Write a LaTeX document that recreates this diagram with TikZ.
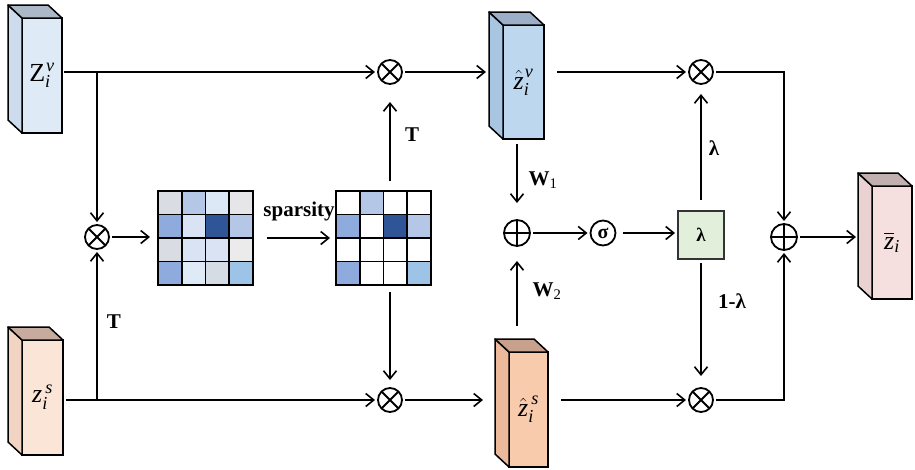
\documentclass[tikz,border=0pt]{standalone}
\usepackage{amsmath}
\usepackage{fontspec}
\setmainfont{Liberation Serif}
\usetikzlibrary{arrows.meta,calc}
\definecolor{zvF}{HTML}{DEEAF6}\definecolor{zvS}{HTML}{CCDCEC}\definecolor{zvT}{HTML}{ABB8C8}
\definecolor{zsF}{HTML}{FBE5D6}\definecolor{zsS}{HTML}{F1D4C2}\definecolor{zsT}{HTML}{C6AB9E}
\definecolor{hvF}{HTML}{BDD7EE}\definecolor{hvS}{HTML}{A8C5E2}\definecolor{hvT}{HTML}{9BB0C8}
\definecolor{hsF}{HTML}{F8CBAD}\definecolor{hsS}{HTML}{ECBA9A}\definecolor{hsT}{HTML}{C7A18C}
\definecolor{zbF}{HTML}{F5DFDF}\definecolor{zbS}{HTML}{EAD2D2}\definecolor{zbT}{HTML}{C2B0B0}
\definecolor{lamF}{HTML}{E2EFDA}
\definecolor{cA}{HTML}{D9DCE3}\definecolor{cB}{HTML}{B4C7E7}\definecolor{cC}{HTML}{DCE8F6}
\definecolor{cD}{HTML}{E6E6E8}\definecolor{cE}{HTML}{8FAADC}\definecolor{cF}{HTML}{DAE3F3}
\definecolor{cG}{HTML}{2F5597}\definecolor{cH}{HTML}{EBEBEB}\definecolor{cI}{HTML}{DEEBF7}
\definecolor{cJ}{HTML}{D6DCE4}\definecolor{cK}{HTML}{9DC3E6}
\tikzset{
  conn/.style={line width=1.6pt, -{Straight Barb[length=8pt,width=13pt]}},
  opnode/.style={circle, draw, line width=1.8pt, minimum size=24pt, inner sep=0pt, outer sep=3pt},
  otimesnode/.style={opnode, path picture={\draw[line width=1.8pt]
     (path picture bounding box.north west) -- (path picture bounding box.south east)
     (path picture bounding box.north east) -- (path picture bounding box.south west);}},
  oplusnode/.style={opnode, minimum size=26pt, path picture={\draw[line width=1.8pt]
     (path picture bounding box.north) -- (path picture bounding box.south)
     (path picture bounding box.east) -- (path picture bounding box.west);}},
  blabel/.style={font=\fontsize{21}{24}\selectfont\bfseries},
  cubelabel/.style={font=\fontsize{26}{30}\selectfont},
  cell/.style={draw=black, line width=1.6pt},
}
\newcommand\mycuboid[9]{%
  \node[draw, line width=1.5pt, fill=#6, minimum width=#4pt, minimum height=#5pt,
        inner sep=0pt, outer sep=0pt, cubelabel] (#1) at (#2,#3) {#9};
  \filldraw[fill=#7, line width=1.5pt, line join=round] (#1.north west) -- ++(-14,-13)
     -- ($(#1.south west)+(-14,-13)$) -- (#1.south west) -- cycle;
  \filldraw[fill=#8, line width=1.5pt, line join=round] (#1.north west) -- ++(-14,-13)
     -- ($(#1.north east)+(-14,-13)$) -- (#1.north east) -- cycle;
}
\newcommand\mymatrix[2]{%
  \foreach \col/\row/\clr in {#2}
    \filldraw[cell, fill=\clr] ($(#1.north west)+(\col*23.75,\row*23.5)$) rectangle ++(23.75,23.5);
}
\begin{document}
\begin{tikzpicture}[x=1pt,y=-1pt]
\useasboundingbox (0,0) rectangle (915,469);
\fill[white] (0,0) rectangle (915,469);

% cuboids
\mycuboid{zv}{42}{75.5}{40}{115}{zvF}{zvS}{zvT}{$\textrm{Z}_{\textit{i}}^{\hspace{1pt}\textit{v}}$}
\mycuboid{zs}{42.5}{397.5}{41}{115}{zsF}{zsS}{zsT}{$\textit{z}_{\textit{i}}^{\hspace{3pt}\textit{s}}$}
\mycuboid{zhv}{523.5}{82}{41}{114}{hvF}{hvS}{hvT}{$\hat{\textit{z}}_{\textit{i}}^{\hspace{1pt}\textit{v}}$}
\mycuboid{zhs}{528.5}{409.5}{39}{115}{hsF}{hsS}{hsT}{$\hat{\textit{z}}_{\textit{i}}^{\hspace{3pt}\textit{s}}$}
\mycuboid{zb}{892}{242.5}{40}{113}{zbF}{zbS}{zbT}{$\overline{\textit{z}}_{\textit{i}}$}

% matrices
\node[minimum width=95pt, minimum height=94pt, inner sep=0pt, outer sep=0pt] (m1) at (205.5,238) {};
\node[minimum width=95pt, minimum height=94pt, inner sep=0pt, outer sep=0pt] (m2) at (383.5,238) {};
\mymatrix{m1}{0/0/cA,1/0/cB,2/0/cC,3/0/cD,0/1/cE,1/1/cF,2/1/cG,3/1/cB,0/2/cA,1/2/cF,2/2/cF,3/2/cH,0/3/cE,1/3/cI,2/3/cJ,3/3/cK}
\mymatrix{m2}{0/0/white,1/0/cB,2/0/white,3/0/white,0/1/cE,1/1/white,2/1/cG,3/1/cB,0/2/white,1/2/white,2/2/white,3/2/white,0/3/cE,1/3/white,2/3/white,3/3/cK}

% operator nodes
\node[otimesnode] (oleft) at (97,237) {};
\node[otimesnode] (otop) at (390,72) {};
\node[otimesnode] (obot) at (390,400) {};
\node[oplusnode] (oplus) at (517,233) {};
\node[opnode, minimum size=25pt] (sig) at (603,233) {\fontsize{20}{22}\selectfont\bfseries σ};
\node[draw=black!80, line width=1.4pt, fill=lamF, minimum width=46pt, minimum height=48pt,
      inner sep=0pt, outer sep=3pt, font=\fontsize{19}{20}\selectfont\bfseries] (lam) at (701,235) {λ};
\node[otimesnode] (otr) at (701,72) {};
\node[otimesnode] (obr) at (701,400) {};
\node[oplusnode] (oplusr) at (784,237) {};

\coordinate (jv) at (97,72);
\coordinate (js) at (97,400);
\coordinate (w2s) at (517,326);

% connectors
\draw[conn, shorten <=2pt] (zv.east |- jv) -- (otop);
\draw[conn] (jv) -- (oleft);
\draw[conn, shorten <=3pt] (zs.east |- js) -- (obot);
\draw[conn] (js) -- (oleft);
\node[blabel] (tl) at (114,322) {T};
\draw[conn, shorten >=8pt] (oleft) -- (oleft -| m1.west);
\draw[conn, shorten <=14pt, shorten >=6pt] (m1.east) -- (m2.west);
\node[blabel] (sp) at (299,211) {sparsity};
\draw[conn, shorten <=10pt, shorten >=15pt] (m2.north -| otop) -- (otop);
\node[blabel] (tt) at (412,135) {T};
\draw[conn, shorten <=7pt, shorten >=5pt] (m2.south -| obot) -- (obot);
\draw[conn, shorten >=17pt] (otop) -- (otop -| zhv.west);
\draw[conn, shorten >=26pt] (obot) -- (obot -| zhs.west);
\draw[conn, shorten <=5pt, shorten >=14pt] (zhv.south -| oplus) -- (oplus);
\node[blabel] (w1) at (543,180) {W{\mdseries\textsubscript{1}}};
\draw[conn, shorten >=12pt] (w2s) -- (oplus);
\node[blabel] (w2) at (547,291) {W{\mdseries\textsubscript{2}}};
\draw[conn] (oplus) -- (sig);
\draw[conn, shorten <=4pt] (sig) -- (sig -| lam.west);
\draw[conn, shorten <=8pt, shorten >=7pt] (lam) -- (otr);
\node[blabel] (ll) at (714,148) {λ};
\draw[conn, shorten <=1pt, shorten >=9pt] (lam) -- (obr);
\node[blabel] (oml) at (732,301) {1-λ};
\draw[conn, shorten <=13pt] (zhv.east |- otr) -- (otr);
\draw[conn, shorten <=13pt] (zhs.east |- obr) -- (obr);
\draw[conn] (otr) -| (oplusr);
\draw[conn] (obr) -| (oplusr);
\draw[conn, shorten >=16pt] (oplusr) -- (oplusr -| zb.west);
\end{tikzpicture}
\end{document}
